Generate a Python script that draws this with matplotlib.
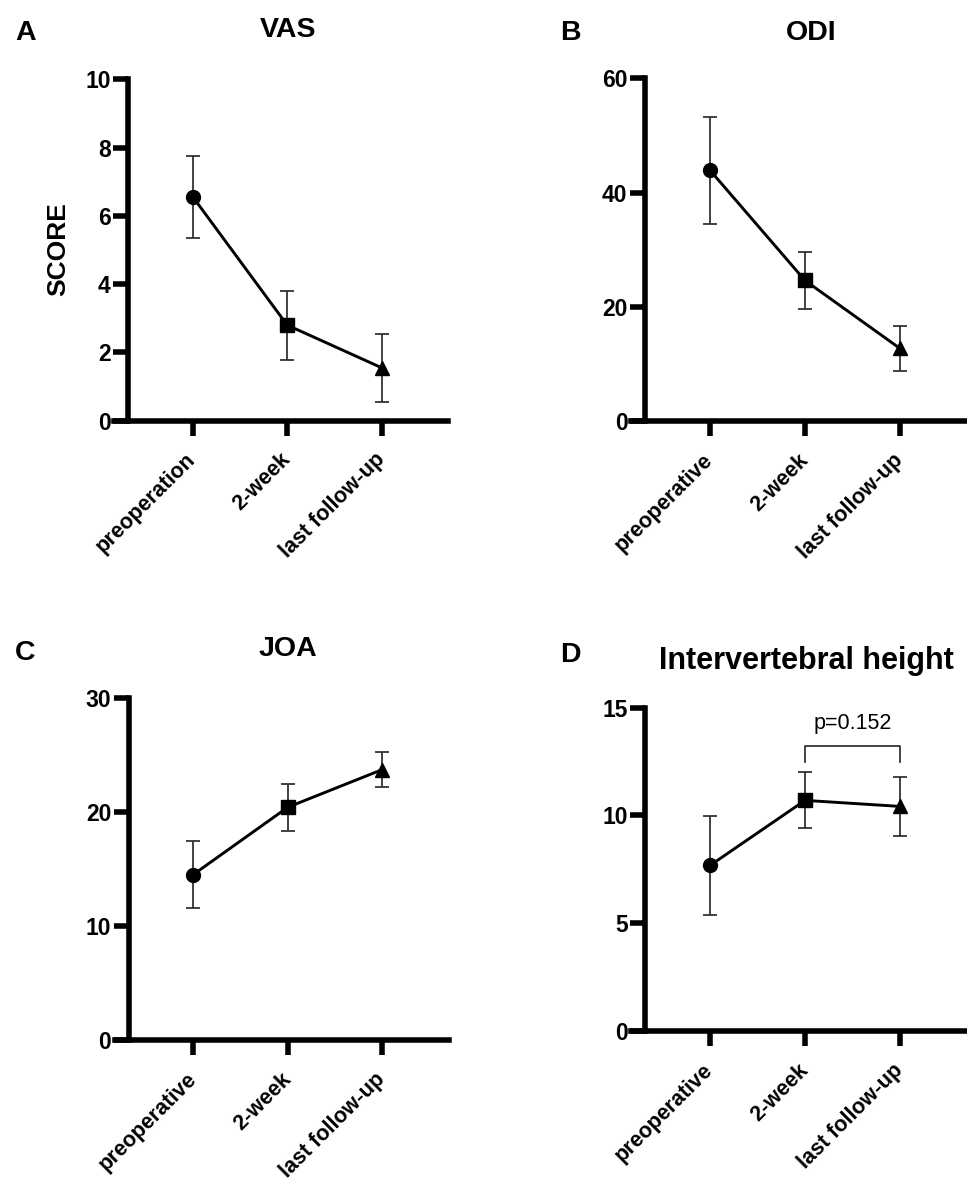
import matplotlib
matplotlib.use('Agg')
import matplotlib.pyplot as plt

plt.rcParams['font.family'] = ['Liberation Sans', 'DejaVu Sans']
plt.rcParams['font.weight'] = 'bold'

# groups
labels_a = ['preoperation', '2-week', 'last follow-up']
labels_bcd = ['preoperative', '2-week', 'last follow-up']
markers = ['o', 's', '^']
marker_sizes = [10, 9.5, 10]

# mean and SD
vas_mean = [6.56, 2.8, 1.55]
vas_sd = [1.2, 1.01, 0.99]
odi_mean = [43.9, 24.6, 12.7]
odi_sd = [9.35, 5.0, 3.9]
joa_mean = [14.5, 20.4, 23.7]
joa_sd = [2.9, 2.05, 1.53]
ivh_mean = [7.68, 10.7, 10.42]
ivh_sd = [2.3, 1.3, 1.36]

W, H = 967, 1190
fig = plt.figure(figsize=(W / 100, H / 100), dpi=100)


def px_axes(tick0, spacing, y_top, y_bottom):
    # place axes so that x=0 sits on tick0 (pixels) and ticks are `spacing` apart
    left = tick0 - 0.83 * spacing
    width = 3.535 * spacing
    return fig.add_axes([left / W, 1 - y_bottom / H, width / W, (y_bottom - y_top) / H])


def draw(ax, mean, sd, labels, ymax, step):
    x = [0, 1, 2]
    ax.plot(x, mean, color='black', lw=2.1, zorder=2)
    ax.errorbar(x, mean, yerr=sd, fmt='none', ecolor='#2b2b2b', elinewidth=1.25,
                capsize=4.7, capthick=1.25, zorder=3)
    for xi, yi, m, ms in zip(x, mean, markers, marker_sizes):
        ax.plot(xi, yi, marker=m, color='black', markersize=ms, zorder=4)
    ax.set_xlim(-0.83, 2.705)
    ax.set_ylim(0, ymax)
    ax.set_yticks(range(0, ymax + 1, step))
    ax.set_xticks(x)
    ax.set_xticklabels(labels, rotation=45, ha='right', va='center',
                       rotation_mode='anchor', fontsize=15.5)
    for s in ['top', 'right']:
        ax.spines[s].set_visible(False)
    ax.spines['left'].set_position(('data', -0.68))
    ax.spines['left'].set_linewidth(4)
    ax.spines['bottom'].set_linewidth(4)
    ax.tick_params(axis='y', length=10.8, width=4, pad=2, labelsize=16.5)
    ax.tick_params(axis='x', length=10.8, width=4, pad=15)


axA = px_axes(192.7, 94.5, 79.3, 420.7)
draw(axA, vas_mean, vas_sd, labels_a, 10, 2)

axB = px_axes(710, 95, 78.3, 421)
draw(axB, odi_mean, odi_sd, labels_bcd, 60, 20)

axC = px_axes(193.3, 94.5, 697.7, 1040)
draw(axC, joa_mean, joa_sd, labels_bcd, 30, 10)

axD = px_axes(710, 95, 707.7, 1031)
draw(axD, ivh_mean, ivh_sd, labels_bcd, 15, 5)
axD.plot([1, 1, 2, 2], [12.5, 13.22, 13.22, 12.5], color='#2b2b2b', lw=1.25)
axD.text(1.5, 14.25, 'p=0.152', ha='center', va='center', fontsize=15.5,
         fontweight='normal')


def ftext(x, y, s, size, **kw):
    fig.text(x / W, 1 - y / H, s, fontsize=size, fontweight='bold', **kw)


ftext(58, 249, 'SCORE', 19, rotation=90, ha='center', va='center')

ftext(25.5, 40, 'A', 20.5, ha='center', va='baseline')
ftext(570, 39.5, 'B', 20.5, ha='center', va='baseline')
ftext(25, 660, 'C', 20.5, ha='center', va='baseline')
ftext(570, 662, 'D', 20.5, ha='center', va='baseline')
ftext(288.5, 36.7, 'VAS', 20.5, ha='center', va='baseline')
ftext(811, 39.5, 'ODI', 20.5, ha='center', va='baseline')
ftext(288, 656.4, 'JOA', 20.5, ha='center', va='baseline')
ftext(806, 669, 'Intervertebral height', 22, ha='center', va='baseline')

fig.savefig('out.png', dpi=100)
